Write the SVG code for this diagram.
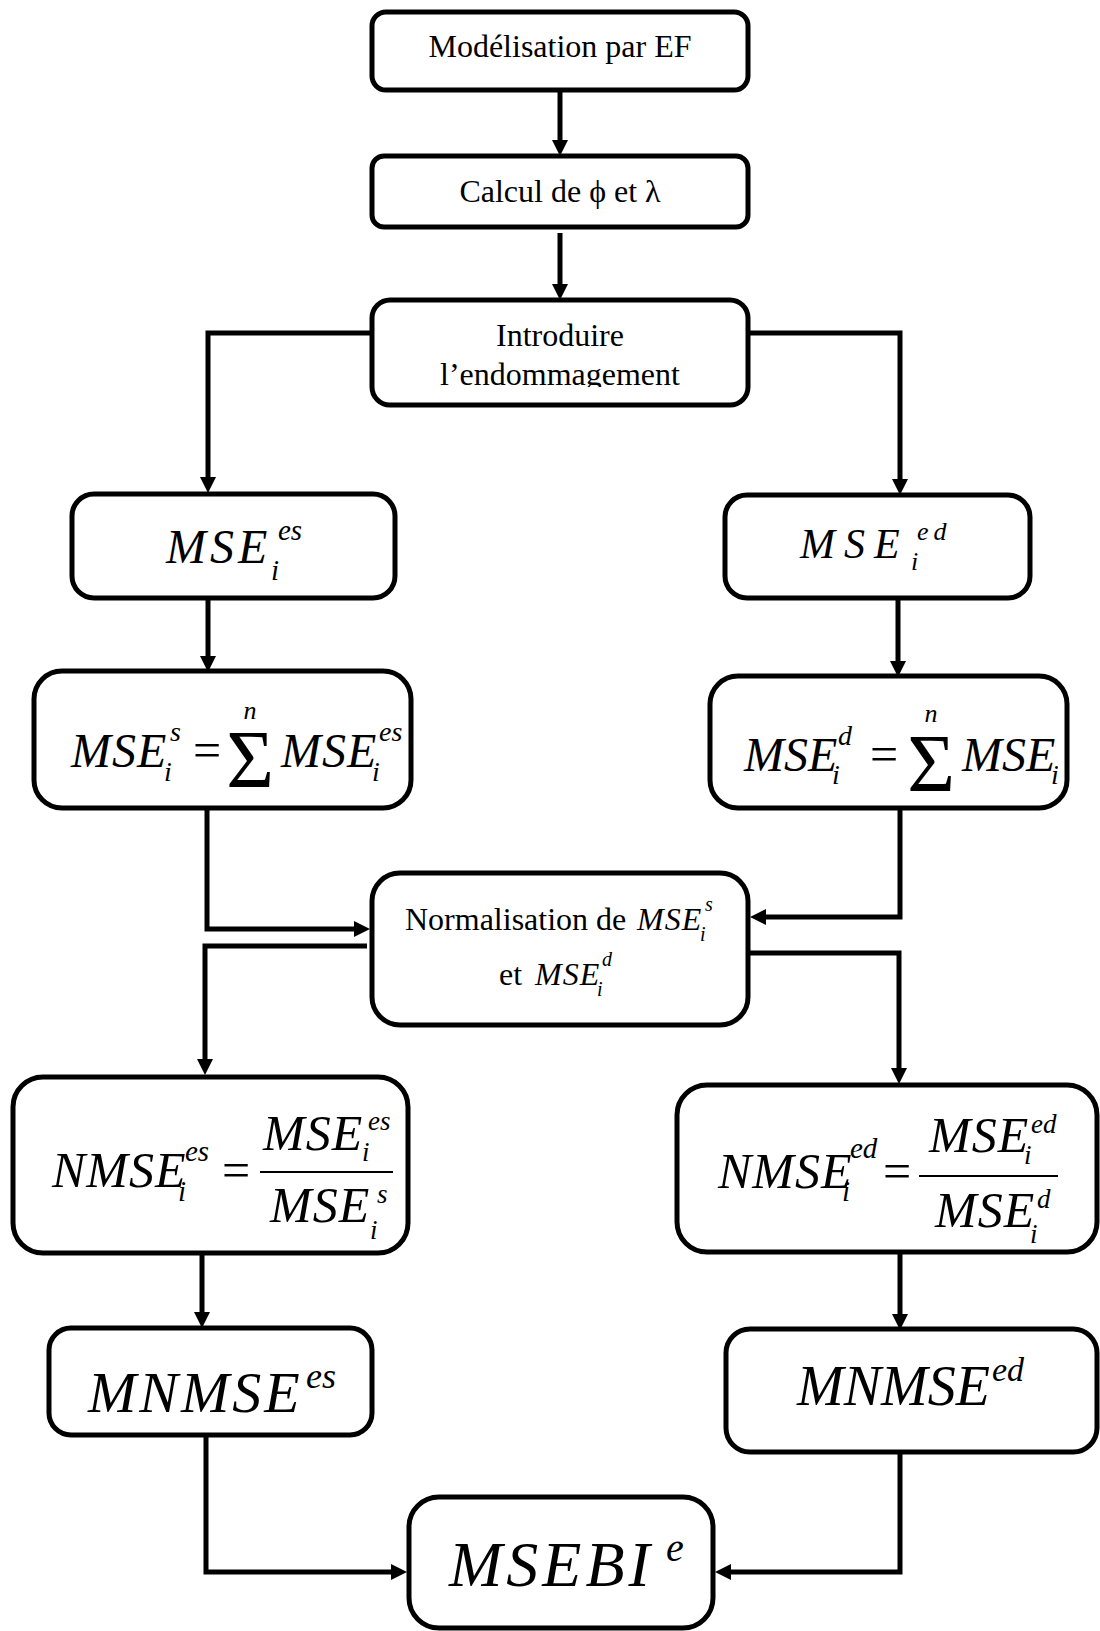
<svg xmlns="http://www.w3.org/2000/svg" width="1100" height="1631" viewBox="0 0 1100 1631">
<style>
.box{fill:#fff;stroke:#000;stroke-width:5}
.t{font-family:"Liberation Serif","Times New Roman",serif;fill:#000}
.r{font-size:32px}
.m{font-style:italic}
.c{stroke:#000;stroke-width:5;fill:none;stroke-linejoin:miter}
.bar{stroke:#000;stroke-width:2}
</style>
<defs>
<marker id="ah" viewBox="0 0 16 16" refX="1" refY="8" markerWidth="16" markerHeight="16" markerUnits="userSpaceOnUse" orient="auto">
<path d="M0,0 L16,8 L0,16 z" fill="#000"/>
</marker>
<clipPath id="clip3"><rect x="372" y="300" width="376" height="87"/></clipPath>
<clipPath id="clipd"><rect x="700" y="676" width="358" height="132"/></clipPath>
</defs>

<g id="connectors">
<path class="c" marker-end="url(#ah)" d="M560,90 L560,141"/>
<path class="c" marker-end="url(#ah)" d="M560,233 L560,285"/>
<path class="c" marker-end="url(#ah)" d="M372,333 L208,333 L208,478"/>
<path class="c" marker-end="url(#ah)" d="M748,333 L900,333 L900,480"/>
<path class="c" marker-end="url(#ah)" d="M208,598 L208,657"/>
<path class="c" marker-end="url(#ah)" d="M898,598 L898,662"/>
<path class="c" marker-end="url(#ah)" d="M207,808 L207,929 L355,929"/>
<path class="c" marker-end="url(#ah)" d="M900,795 L900,917 L765,917"/>
<path class="c" marker-end="url(#ah)" d="M367,946 L205,946 L205,1060"/>
<path class="c" marker-end="url(#ah)" d="M748,953 L899,953 L899,1069"/>
<path class="c" marker-end="url(#ah)" d="M202,1253 L202,1313"/>
<path class="c" marker-end="url(#ah)" d="M900,1252 L900,1315"/>
<path class="c" marker-end="url(#ah)" d="M206,1435 L206,1572 L392,1572"/>
<path class="c" marker-end="url(#ah)" d="M900,1452 L900,1572 L730,1572"/>
</g>

<g id="n1">
<rect class="box" x="372" y="12" width="376" height="78" rx="14"/>
<text class="t r" x="560" y="57" text-anchor="middle">Modélisation par EF</text>
</g>

<g id="n2">
<rect class="box" x="372" y="156" width="376" height="71" rx="12"/>
<text class="t r" x="560" y="202" text-anchor="middle">Calcul de ϕ et λ</text>
</g>

<g id="n3">
<rect class="box" x="372" y="300" width="376" height="105" rx="18"/>
<g clip-path="url(#clip3)">
<text class="t r" x="560" y="346" text-anchor="middle">Introduire</text>
<text class="t r" x="560" y="385" text-anchor="middle">l’endommagement</text>
</g>
</g>

<g id="n4">
<rect class="box" x="72" y="494" width="323" height="104" rx="22"/>
<text class="t m" x="166" y="563" font-size="48" letter-spacing="4">MSE</text>
<text class="t m" x="278" y="540" font-size="29">es</text>
<text class="t m" x="271" y="580" font-size="29">i</text>
</g>

<g id="n5">
<rect class="box" x="725" y="495" width="305" height="103" rx="22"/>
<text class="t m" x="800" y="558" font-size="42" letter-spacing="9">MSE</text>
<text class="t m" x="917" y="540" font-size="26" letter-spacing="5">ed</text>
<text class="t m" x="911" y="570" font-size="26">i</text>
</g>

<g id="n6">
<rect class="box" x="34" y="671" width="377" height="137" rx="28"/>
<text class="t m" x="71" y="767" font-size="48" letter-spacing="1">MSE</text>
<text class="t m" x="170" y="741" font-size="28">s</text>
<text class="t m" x="164" y="781" font-size="28">i</text>
<text class="t" x="207" y="767" font-size="50" text-anchor="middle">=</text>
<text class="t" x="250" y="787" font-size="82" text-anchor="middle">Σ</text>
<text class="t m" x="250" y="719" font-size="26" text-anchor="middle">n</text>
<text class="t m" x="281" y="767" font-size="48" letter-spacing="1">MSE</text>
<text class="t m" x="379" y="741" font-size="28">es</text>
<text class="t m" x="372" y="781" font-size="28">i</text>
</g>

<g id="n7">
<rect class="box" x="710" y="676" width="357" height="132" rx="28"/>
<g clip-path="url(#clipd)">
<text class="t m" x="744" y="771" font-size="48">MSE</text>
<text class="t m" x="838" y="745" font-size="28">d</text>
<text class="t m" x="832" y="784" font-size="28">i</text>
<text class="t" x="884" y="771" font-size="50" text-anchor="middle">=</text>
<text class="t" x="931" y="791" font-size="82" text-anchor="middle">Σ</text>
<text class="t m" x="931" y="722" font-size="26" text-anchor="middle">n</text>
<text class="t m" x="962" y="771" font-size="48">MSE</text>
<text class="t m" x="1058" y="745" font-size="28">ed</text>
<text class="t m" x="1051" y="784" font-size="28">i</text>
</g>
</g>

<g id="n8">
<rect class="box" x="372" y="873" width="376" height="152" rx="28"/>
<text class="t r" x="405" y="930">Normalisation de</text>
<text class="t m" x="637" y="930" font-size="32" letter-spacing="1">MSE</text>
<text class="t m" x="705" y="911" font-size="20">s</text>
<text class="t m" x="700" y="941" font-size="20">i</text>
<text class="t r" x="499" y="985">et</text>
<text class="t m" x="535" y="985" font-size="32" letter-spacing="1">MSE</text>
<text class="t m" x="602" y="966" font-size="20">d</text>
<text class="t m" x="597" y="996" font-size="20">i</text>
</g>

<g id="n9">
<rect class="box" x="13" y="1077" width="395" height="176" rx="30"/>
<text class="t m" x="52" y="1187" font-size="50" letter-spacing="1">NMSE</text>
<text class="t m" x="185" y="1161" font-size="29">es</text>
<text class="t m" x="178" y="1201" font-size="29">i</text>
<text class="t" x="236" y="1187" font-size="50" text-anchor="middle">=</text>
<line class="bar" x1="260" y1="1172" x2="393" y2="1172"/>
<text class="t m" x="263" y="1150" font-size="50" letter-spacing="1">MSE</text>
<text class="t m" x="368" y="1130" font-size="27">es</text>
<text class="t m" x="362" y="1161" font-size="27">i</text>
<text class="t m" x="270" y="1222" font-size="50" letter-spacing="1">MSE</text>
<text class="t m" x="377" y="1203" font-size="27">s</text>
<text class="t m" x="370" y="1239" font-size="27">i</text>
</g>

<g id="n10">
<rect class="box" x="677" y="1085" width="420" height="167" rx="30"/>
<text class="t m" x="718" y="1188" font-size="50" letter-spacing="1">NMSE</text>
<text class="t m" x="850" y="1158" font-size="29">ed</text>
<text class="t m" x="842" y="1201" font-size="29">i</text>
<text class="t" x="897" y="1188" font-size="50" text-anchor="middle">=</text>
<line class="bar" x1="919" y1="1176" x2="1058" y2="1176"/>
<text class="t m" x="929" y="1152" font-size="50" letter-spacing="1">MSE</text>
<text class="t m" x="1031" y="1133" font-size="27">ed</text>
<text class="t m" x="1024" y="1164" font-size="27">i</text>
<text class="t m" x="935" y="1227" font-size="50" letter-spacing="1">MSE</text>
<text class="t m" x="1037" y="1208" font-size="27">d</text>
<text class="t m" x="1030" y="1243" font-size="27">i</text>
</g>

<g id="n11">
<rect class="box" x="49" y="1328" width="323" height="107" rx="22"/>
<text class="t m" x="88" y="1412" font-size="58" letter-spacing="3">MNMSE</text>
<text class="t m" x="306" y="1388" font-size="36">es</text>
</g>

<g id="n12">
<rect class="box" x="726" y="1329" width="371" height="123" rx="24"/>
<text class="t m" x="797" y="1405" font-size="56">MNMSE</text>
<text class="t m" x="992" y="1381" font-size="34">ed</text>
</g>

<g id="n13">
<rect class="box" x="409" y="1497" width="304" height="131" rx="30"/>
<text class="t m" x="449" y="1586" font-size="64" letter-spacing="4">MSEBI</text>
<text class="t m" x="666" y="1561" font-size="40">e</text>
</g>
</svg>
